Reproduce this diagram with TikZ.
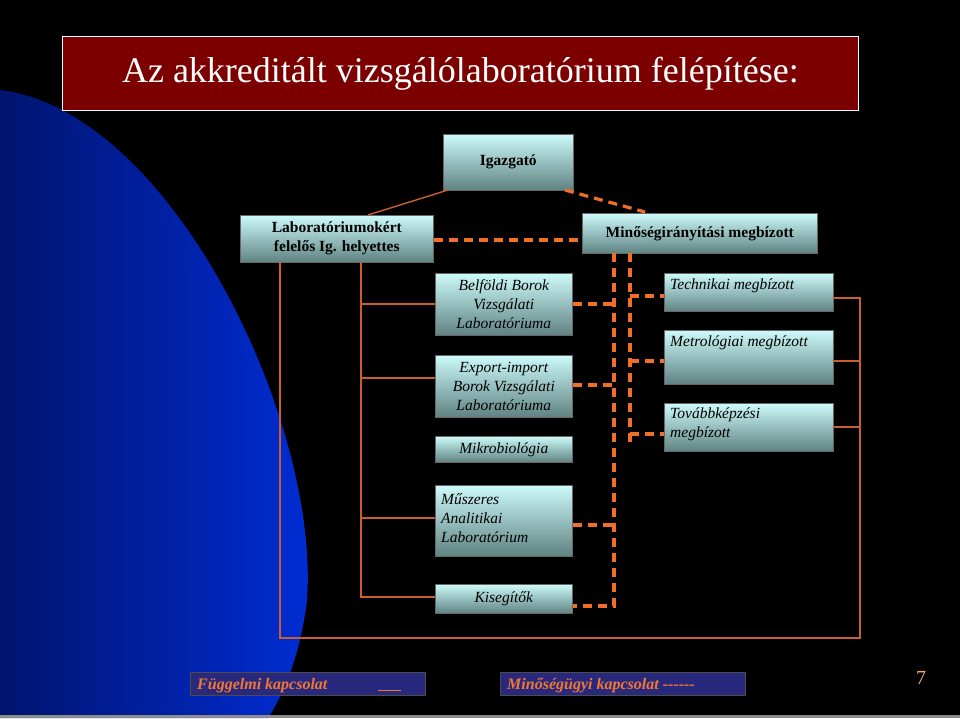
\documentclass[tikz,border=0pt]{standalone}
\usepackage{fontspec}
\setmainfont{Liberation Serif}
\definecolor{legtext}{RGB}{240,120,50}
\definecolor{legfill}{RGB}{40,40,125}
\definecolor{solidc}{RGB}{200,95,45}
\definecolor{dashc}{RGB}{240,110,40}
\definecolor{boxtop}{RGB}{205,250,250}
\definecolor{boxbot}{RGB}{95,130,130}
\definecolor{titlered}{RGB}{125,0,0}
\definecolor{bluedark}{RGB}{0,20,110}
\definecolor{bluelight}{RGB}{0,45,215}
\definecolor{pagec}{RGB}{240,170,120}
\begin{document}
\begin{tikzpicture}[x=1pt,y=-1pt,
  box/.style={draw=black!60,line width=0.6pt,top color=boxtop,bottom color=boxbot,inner sep=1pt,font=\fontsize{15.5}{19}\selectfont,text=black},
  btext/.style={font=\fontsize{15.5}{19}\selectfont\itshape,inner sep=0,align=left},
  solid line/.style={draw=solidc,line width=1.4pt},
  dash line/.style={draw=dashc,line width=3.2pt,dash pattern=on 9pt off 6pt},
  legend/.style={draw=black!70,fill=legfill,font=\fontsize{16}{17}\selectfont\bfseries\itshape,text=legtext}]
\fill[black] (0,0) rectangle (960,718);
\useasboundingbox (0,0) rectangle (960,718);
\shade[left color=bluedark,right color=bluelight] (0,90) .. controls (170,110) and (320,420) .. (307,600) .. controls (300,660) and (280,700) .. (268,718) -- (0,718) -- cycle;
\fill[black!45] (0,715) rectangle (960,718);
% title
\node[draw=white,line width=0.8pt,fill=titlered,minimum width=796,minimum height=74,anchor=north west,text=white,font=\fontsize{36}{40}\selectfont] (title) at (62,36) {Az akkreditált vizsgálólaboratórium felépítése:};
% boxes
\newcommand{\bx}[6]{\node[box,minimum width=#4-#2,minimum height=#5-#3,anchor=north west,align=center] (#1) at (#2,#3) {#6};}
\bx{ig}{443}{134}{573}{190}{\textbf{Igazgató}}
\bx{dep}{240}{215}{433}{262}{\bfseries Laboratóriumokért\\\bfseries felelős Ig. helyettes}
\bx{min}{582}{213}{817}{253}{\textbf{Minőségirányítási megbízott}}
\bx{bel}{435}{273}{572}{335}{\itshape Belföldi Borok\\\itshape Vizsgálati\\\itshape Laboratóriuma}
\bx{exp}{435}{355}{572}{417}{\itshape Export-import\\\itshape Borok Vizsgálati\\\itshape Laboratóriuma}
\bx{mik}{435}{436}{572}{462}{\itshape Mikrobiológia}
\bx{mus}{435}{485}{572}{556}{}
\node[btext,anchor=west] (musT) at (441,518) {Műszeres\\Analitikai\\Laboratórium};
\bx{kis}{435}{584}{572}{613}{\itshape Kisegítők}
\bx{tech}{664}{273}{833}{311}{}
\node[btext,anchor=north west] (techT) at (670,279) {Technikai megbízott};
\bx{met}{664}{330}{833}{384}{}
\node[btext,anchor=north west] (metT) at (670,336) {Metrológiai megbízott};
\bx{tov}{664}{403}{833}{451}{}
\node[btext,anchor=north west] (tovT) at (670,408) {Továbbképzési\\megbízott};
% solid lines
\draw[solid line] (448,190) -- (368,215);
\draw[solid line] (280,262) |- (860,638) |- (tech.east |- 0,298);
\draw[solid line] (met.east |- 0,361) -- (860,361);
\draw[solid line] (tov.east |- 0,427) -- (860,427);
\draw[solid line] (361,262) |- (kis.west |- 0,597);
\draw[solid line] (361,304) -- (bel.west |- 0,304);
\draw[solid line] (361,378) -- (exp.west |- 0,378);
\draw[solid line] (361,518) -- (mus.west |- 0,518);
% dashed lines
\draw[dash line] (565,190) -- (645,212);
\draw[dash line] (dep.east |- 0,240) -- (min.west |- 0,240);
\draw[dash line] (614,253) |- (kis.east |- 0,606);
\draw[dash line] (bel.east |- 0,304) -- (614,304);
\draw[dash line] (exp.east |- 0,385) -- (614,385);
\draw[dash line] (mus.east |- 0,525) -- (614,525);
\draw[dash line] (630,253) -- (630,442);
\draw[dash line] (630,296) -- (tech.west |- 0,296);
\draw[dash line] (630,361) -- (met.west |- 0,361);
\draw[dash line] (630,434) -- (tov.west |- 0,434);
% legend
\node[legend,minimum width=235,minimum height=23,anchor=north west,inner sep=0] (lg1) at (190,672) {};
\node[legend,draw=none,fill=none,anchor=west,inner sep=0] (lg1T) at (197,686) {Függelmi kapcsolat};
\draw[legtext,line width=1pt] (378,690) -- (401,690);
\node[legend,minimum width=245,minimum height=23,anchor=north west,inner sep=0] (lg2) at (500,672) {};
\node[legend,draw=none,fill=none,anchor=west,inner sep=0] (lg2T) at (507,686) {Minőségügyi kapcsolat -{}-{}-{}-{}-{}-};
\node[text=pagec,font=\fontsize{20}{22}\selectfont] (pg) at (921,678) {7};
\end{tikzpicture}
\end{document}
